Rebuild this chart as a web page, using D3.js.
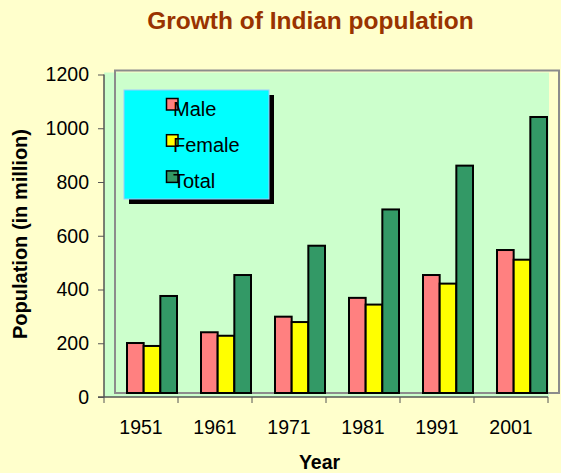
<!DOCTYPE html>
<html>
<head>
<meta charset="utf-8">
<script src="https://cdn.jsdelivr.net/npm/d3@7"></script>
<style>
    body { margin: 0; background: #ffffcc; }
    svg { display: block; }
    text { font-family: "Liberation Sans", Arial, sans-serif; }
</style>
</head>
<body>
<svg id="chart"></svg>
<script>
const years = ["1951", "1961", "1971", "1981", "1991", "2001"];
const series = ["Male", "Female", "Total"];
const male = [186, 226, 284, 354, 439, 532];
const female = [175, 213, 264, 329, 407, 496];
const total = [361, 439, 548, 683, 846, 1027];
const yTicks = [0, 200, 400, 600, 800, 1000, 1200];

const colors = {
    "Male": "#ff8080",
    "Female": "#ffff00",
    "Total": "#339966"
};

var backgroundColor = "#ffffcc";
var plotColor = "#ccffcc";
var legendColor = "#00ffff";
var titleColor = "#993300";
var axisColor = "#555555";

const width = 561, height = 473;
const margin = {t: 74.5, r: 13, b: 76, l: 104};
// back wall of the plot is drawn offset, bars stand on it
const depth = {x: 11, y: -4};

const svg = d3.select("#chart")
    .attr("width", width)
    .attr("height", height)
    .style("background", backgroundColor);

const x0 = d3.scaleBand().domain(years).range([margin.l, width - margin.r]).padding(0);
const x1 = d3.scaleBand().domain(series).range([0, 50]).padding(0);
const y = d3.scaleLinear().domain([0, 1200]).range([height - margin.b, margin.t]);

const rows = years.map((yr, i) => ({
    year: yr,
    values: [male[i], female[i], total[i]].map((v, j) => ({key: series[j], value: v}))
}));

// plot area fill
svg.append("rect")
    .attr("x", margin.l)
    .attr("y", margin.t - 2)
    .attr("width", width - margin.r - margin.l + 1)
    .attr("height", height - margin.b - margin.t + 2)
    .attr("fill", plotColor);

// offset frame
svg.append("rect")
    .attr("x", margin.l + depth.x)
    .attr("y", margin.t + depth.y)
    .attr("width", width - margin.r - margin.l)
    .attr("height", height - margin.b - margin.t)
    .attr("fill", "none")
    .attr("stroke", "#8c8c8c")
    .attr("stroke-width", 2);

const groups = svg.selectAll(".group")
    .data(rows)
    .join("g")
    .attr("class", "group")
    .attr("transform", d => "translate(" + (x0(d.year) + (x0.bandwidth() - 50) / 2 + depth.x) + "," + depth.y + ")");

groups.selectAll("rect")
    .data(d => d.values)
    .join("rect")
    .attr("x", d => x1(d.key))
    .attr("y", d => y(d.value))
    .attr("width", x1.bandwidth())
    .attr("height", d => y(0) - y(d.value))
    .attr("fill", d => colors[d.key])
    .attr("stroke", "#000")
    .attr("stroke-width", 2);

// y axis
const yAxis = svg.append("g")
    .attr("transform", "translate(" + margin.l + ",0)")
    .call(d3.axisLeft(y).tickValues(yTicks).tickSize(6).tickPadding(9).tickFormat(d3.format("d")));

// x axis with ticks between categories
const xAxis = svg.append("g")
    .attr("transform", "translate(0," + (height - margin.b) + ")")
    .call(d3.axisBottom(x0).tickSize(0).tickPadding(23));

xAxis.selectAll(".sep")
    .data(years.concat(["end"]))
    .join("line")
    .attr("class", "sep")
    .attr("x1", (d, i) => i < years.length ? x0(d) : x0(years[years.length - 1]) + x0.bandwidth())
    .attr("x2", (d, i) => i < years.length ? x0(d) : x0(years[years.length - 1]) + x0.bandwidth())
    .attr("y1", 0)
    .attr("y2", 6)
    .attr("stroke", axisColor);

[yAxis, xAxis].forEach(ax => {
    ax.select(".domain").attr("stroke", axisColor).attr("stroke-width", 1.5);
    ax.selectAll(".tick line").attr("stroke", axisColor);
    ax.selectAll(".tick text")
        .attr("fill", "#000")
        .style("font-size", "19.5px")
        .style("font-family", "'Liberation Sans', Arial, sans-serif");
});
yAxis.select(".domain").attr("d", "M0," + y(1200) + "V" + y(0));
xAxis.select(".domain").attr("d", "M" + (margin.l - 6) + ",0H" + (width - margin.r));

// title and axis labels
svg.append("text")
    .attr("x", 310.5)
    .attr("y", 28.5)
    .attr("text-anchor", "middle")
    .attr("fill", titleColor)
    .style("font-size", "24.5px")
    .style("font-weight", "bold")
    .text("Growth of Indian population");

svg.append("text")
    .attr("transform", "translate(27,234) rotate(-90)")
    .attr("text-anchor", "middle")
    .style("font-size", "20px")
    .style("font-weight", "bold")
    .text("Population (in million)");

svg.append("text")
    .attr("x", 319.5)
    .attr("y", 469)
    .attr("text-anchor", "middle")
    .style("font-size", "19.5px")
    .style("font-weight", "bold")
    .text("Year");

// legend
const legend = svg.append("g").attr("transform", "translate(124,90)");
legend.append("rect")
    .attr("x", 5).attr("y", 5)
    .attr("width", 145).attr("height", 109)
    .attr("fill", "#000");
legend.append("rect")
    .attr("width", 145).attr("height", 109)
    .attr("fill", legendColor)
    .attr("stroke", "#99ccff")
    .attr("stroke-width", 1);

const item = legend.selectAll(".item")
    .data(series)
    .join("g")
    .attr("class", "item")
    .attr("transform", (d, i) => "translate(0," + (i * 36.2) + ")");

item.append("rect")
    .attr("x", 42.5).attr("y", 8.5)
    .attr("width", 11.5).attr("height", 11.5)
    .attr("fill", d => colors[d])
    .attr("stroke", "#000")
    .attr("stroke-width", 1.5);

item.append("text")
    .attr("x", 49)
    .attr("y", 25.5)
    .style("font-size", "20px")
    .text(d => d);
</script>
</body>
</html>
